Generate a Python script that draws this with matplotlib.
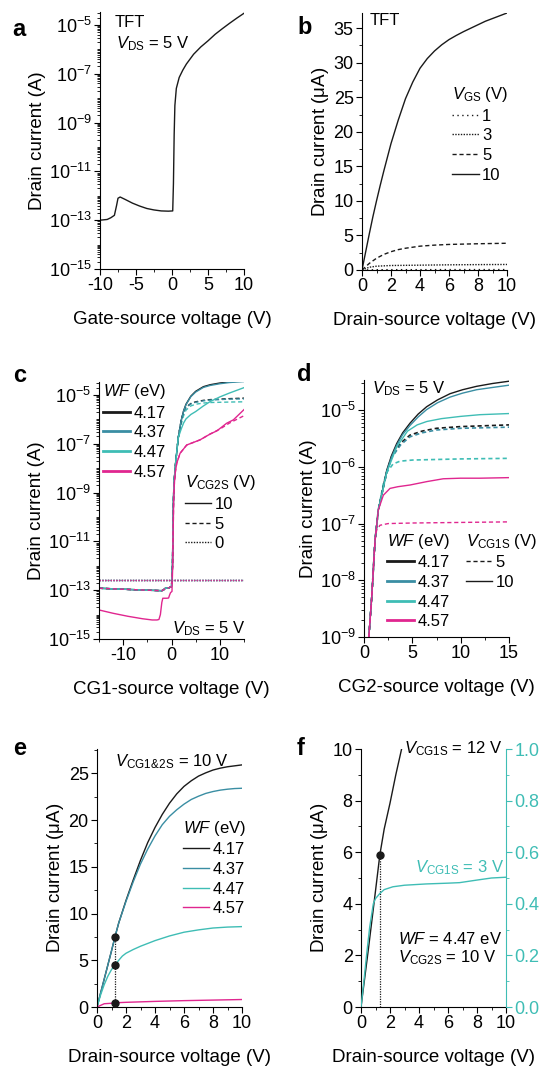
import numpy as np
import matplotlib
matplotlib.use("Agg")
import matplotlib.pyplot as plt
from matplotlib.ticker import MultipleLocator, FixedLocator, NullFormatter
from matplotlib.lines import Line2D
from matplotlib.mathtext import MathTextParser

plt.rcParams['font.family'] = ['Liberation Sans', 'DejaVu Sans']
plt.rcParams['mathtext.fontset'] = 'custom'
plt.rcParams['mathtext.rm'] = 'Liberation Sans'
plt.rcParams['mathtext.it'] = 'Liberation Sans:italic'
plt.rcParams['mathtext.bf'] = 'Liberation Sans:bold'
plt.rcParams['axes.unicode_minus'] = False
plt.rcParams['xtick.direction'] = 'out'
plt.rcParams['ytick.direction'] = 'out'

BLACK = '#1a1a1a'
DKTEAL = '#3a8ea3'
TEAL = '#3fbdb5'
MAGENTA = '#e0268f'
wf_labels = ['4.17', '4.37', '4.47', '4.57']
wf_colors = [BLACK, DKTEAL, TEAL, MAGENTA]

# ---- panel a: TFT transfer curve (log10 of drain current)
a_v = [-10, -9, -8.5, -8, -7.7, -7.5, -7.2, -6.5, -5.5, -4.5, -3.5, -2.5, -1.5, -0.5, 0.1,
       0.2, 0.3, 0.4, 0.6, 1.0, 1.5, 2.0, 3.0, 4.0, 5.0, 6.0, 7.0, 8.0, 9.0, 10.0]
a_log = [-13.0, -12.97, -12.9, -12.8, -12.4, -12.1, -12.05, -12.15, -12.3, -12.42, -12.52, -12.58,
         -12.62, -12.63, -12.62, -11.5, -9.5, -8.3, -7.6, -7.15, -6.85, -6.6, -6.2, -5.9, -5.65,
         -5.38, -5.15, -4.93, -4.72, -4.52]

# ---- panel b: TFT output curves (uA)
b_v10 = [0, 0.25, 0.5, 0.75, 1, 1.25, 1.5, 2, 2.5, 3, 3.5, 4, 4.5, 5, 5.5, 6, 6.5, 7, 7.5, 8,
         8.5, 9, 9.5, 10]
b_i10 = [0, 2.6, 5.2, 7.7, 10, 12.2, 14.3, 18.3, 21.7, 24.8, 27.2, 29.2, 30.6, 31.7, 32.6, 33.35,
         33.95, 34.5, 35.0, 35.5, 36.0, 36.4, 36.8, 37.2]
b_v5 = [0, 0.5, 1, 1.5, 2, 2.5, 3, 4, 5, 6, 8, 10]
b_i5 = [0, 0.95, 1.7, 2.25, 2.65, 2.95, 3.15, 3.45, 3.6, 3.7, 3.8, 3.87]
b_v3 = [0, 0.5, 1, 2, 4, 6, 8, 10]
b_i3 = [0, 0.4, 0.55, 0.65, 0.7, 0.75, 0.78, 0.8]
b_v1 = [0, 1, 2, 4, 6, 8, 10]
b_i1 = [0, 0.04, 0.05, 0.05, 0.06, 0.06, 0.06]

# ---- panel c: transfer vs CG1 (log10 A)
c_off_v = [-15, -10, -5, -2, -1.6, -1.3, -0.5, 0.0]
c_off_log = [-12.92, -12.96, -13.0, -13.02, -12.98, -12.92, -12.9, -12.85]
c_rise_v = [0.2, 0.3, 0.4, 0.5, 0.6, 0.8, 1.0, 1.4]
c_rise_log = [-12.0, -10.5, -9.3, -8.7, -8.4, -7.9, -7.5, -6.75]
c_on_v = [2.0, 2.5, 3, 4, 5, 6.6, 8, 10, 12, 15]
c_417_10 = [-6.05, -5.65, -5.38, -5.05, -4.85, -4.66, -4.58, -4.51, -4.46, -4.42]
c_437_10 = [-6.05, -5.67, -5.4, -5.07, -4.88, -4.69, -4.61, -4.54, -4.49, -4.45]
c_447_10 = [-6.4, -6.15, -5.98, -5.8, -5.68, -5.45, -5.27, -5.08, -4.92, -4.7]
c_417_5 = [-6.05, -5.7, -5.5, -5.35, -5.28, -5.22, -5.19, -5.17, -5.15, -5.13]
c_437_5 = [-6.05, -5.72, -5.52, -5.37, -5.3, -5.24, -5.21, -5.19, -5.17, -5.16]
c_447_5 = [-6.2, -5.85, -5.62, -5.45, -5.38, -5.33, -5.31, -5.3, -5.29, -5.28]
c_557_10_v = [-15, -12, -9, -6, -4, -3, -2.6, -2.3, -2.0, -1.8, -1.0, -0.6, -0.4, -0.2, 0.1,
              0.25, 0.35, 0.45, 0.6, 0.8, 1.08, 1.77, 3.15, 5.9, 8.0, 9.4, 11.4, 12.8, 15]
c_557_10 = [-13.81, -13.95, -14.07, -14.17, -14.22, -14.22, -14.2, -14.0, -13.5, -13.33, -13.33,
            -13.32, -13.2, -13.1, -13.05, -12.0, -10.5, -9.3, -8.6, -8.15, -7.8, -7.39, -7.05,
            -6.84, -6.6, -6.47, -6.16, -6.02, -5.6]
c_557_5_v = [0.25, 0.35, 0.45, 0.6, 0.8, 1.08, 1.77, 3.15, 5.9, 8.0, 10, 12, 15]
c_557_5 = [-12.0, -10.5, -9.3, -8.6, -8.15, -7.8, -7.39, -7.05, -6.84, -6.6, -6.4, -6.15, -5.85]
c_zero_v = [-15, 15]
c_zero_log = [-12.58, -12.58]

# ---- panel d: transfer vs CG2 (log10 A)
d_rise_v = [0.5, 0.8, 1.14, 1.48]
d_rise_log = [-9.0, -8.3, -7.3, -6.76]
d_sol_v = [2.35, 2.85, 3.38, 4.0, 4.76, 5.6, 6.48, 7.6, 8.9, 10.2, 11.65, 13.3, 15]
d_417_10 = [-6.06, -5.8, -5.59, -5.4, -5.23, -5.07, -4.94, -4.82, -4.71, -4.64, -4.58, -4.53, -4.49]
d_437_10 = [-6.08, -5.83, -5.62, -5.43, -5.27, -5.12, -4.99, -4.87, -4.77, -4.7, -4.64, -4.6, -4.56]
d_447_10_v = [2.35, 3.38, 4.5, 5.5, 6.5, 8, 10, 12, 15]
d_447_10 = [-6.1, -5.65, -5.37, -5.26, -5.2, -5.15, -5.11, -5.08, -5.06]
d_dash_v = [2.35, 2.86, 3.8, 4.76, 6, 7.5, 10, 15]
d_417_5 = [-6.1, -5.82, -5.58, -5.44, -5.37, -5.32, -5.29, -5.26]
d_437_5 = [-6.1, -5.84, -5.61, -5.47, -5.4, -5.35, -5.32, -5.3]
d_447_5_v = [2.0, 2.35, 3.0, 3.72, 5, 7.5, 10, 15]
d_447_5 = [-6.3, -6.1, -5.95, -5.9, -5.88, -5.87, -5.86, -5.85]
d_457_10_v = [2.0, 2.69, 3.5, 4.76, 6.5, 8.2, 10, 12, 15]
d_457_10 = [-6.5, -6.38, -6.35, -6.32, -6.26, -6.21, -6.2, -6.2, -6.19]
d_457_5_v = [0.5, 0.8, 1.14, 1.3, 1.65, 2.5, 5, 10, 15]
d_457_5 = [-9.0, -8.3, -7.3, -7.12, -7.03, -7.0, -6.99, -6.98, -6.97]

# ---- panel e: output curves, VCG1&2S = 10 V (uA)
e_v = [0, 0.5, 1, 1.24, 1.5, 2, 2.5, 3, 3.5, 4, 4.5, 5, 5.5, 6, 6.5, 7, 7.5, 8, 8.5, 9, 9.5, 10]
e_417 = [0, 3, 6, 7.5, 9.0, 11.4, 13.6, 15.7, 17.6, 19.2, 20.6, 21.8, 22.8, 23.6, 24.2, 24.7,
         25.05, 25.35, 25.55, 25.7, 25.8, 25.9]
e_437 = [0, 3, 6, 7.5, 9.0, 11.3, 13.4, 15.3, 16.9, 18.3, 19.5, 20.4, 21.1, 21.7, 22.2, 22.55,
         22.85, 23.05, 23.2, 23.3, 23.37, 23.4]
e_447_v = [0, 0.25, 0.5, 0.75, 1, 1.24, 1.5, 1.75, 2, 2.5, 3, 3.5, 4, 5, 6, 7, 8, 9, 10]
e_447 = [0, 1.3, 2.4, 3.3, 4.0, 4.5, 5.0, 5.45, 5.75, 6.15, 6.5, 6.8, 7.1, 7.6, 8.0, 8.25, 8.45,
         8.55, 8.6]
e_457_v = [0, 0.5, 1, 1.24, 2, 4, 6, 8, 10]
e_457 = [0, 0.35, 0.4, 0.45, 0.5, 0.6, 0.68, 0.74, 0.8]
e_dot_v = [1.24, 1.24, 1.24]
e_dot_i = [7.5, 4.5, 0.45]

# ---- panel f: WF = 4.47 eV, VCG2S = 10 V
f_v12 = [0, 0.5, 1, 1.3, 1.6, 2, 2.4, 2.8]
f_i12 = [0, 2.2, 4.5, 5.9, 6.9, 7.9, 9.0, 10]
f_v3 = [0, 0.2, 0.4, 0.6, 0.85, 1.0, 1.3, 1.6, 2.2, 3, 4.5, 6, 6.8, 8, 9, 10]
f_i3 = [0, 0.1, 0.21, 0.31, 0.4, 0.42, 0.44, 0.455, 0.466, 0.472, 0.477, 0.48, 0.482, 0.492,
        0.5, 0.503]
f_dot_v = 1.3
f_dot_i = 5.9

W, H = 539, 1067
fig = plt.figure(figsize=(W / 100, H / 100), dpi=100)


def box(l, t, r, b):
    return [l / W, (H - b) / H, (r - l) / W, (b - t) / H]


TICK = 13
LAB = 13.5
ANN = 12
LW = 1.0


def style(ax):
    for s in ['top', 'right']:
        ax.spines[s].set_visible(False)
    ax.tick_params(labelsize=TICK, length=4, width=0.8, pad=2)
    ax.tick_params(which='minor', length=2.5, width=0.6)


def logaxis(ax, lo, hi, step):
    ax.set_yscale('log')
    ax.set_ylim(10.0 ** lo, 3.4e-5)
    ax.yaxis.set_major_locator(FixedLocator([10.0 ** k for k in range(lo, -4, step)]))
    ax.yaxis.set_major_formatter(matplotlib.ticker.FuncFormatter(
        lambda y, p: r'$10^{%d}$' % round(np.log10(y))))
    minors = [m * 10.0 ** k for k in range(lo, -4) for m in range(1, 10)]
    ax.yaxis.set_minor_locator(FixedLocator(minors))
    ax.yaxis.set_minor_formatter(NullFormatter())


def lg(vals):
    return 10.0 ** np.asarray(vals)


def leg(ax, handles, labels, title, x, y):
    L = ax.legend(handles, labels, title=title, loc='upper left', bbox_to_anchor=(x, y),
                  frameon=False, fontsize=ANN, title_fontsize=ANN, handlelength=1.6,
                  handletextpad=0.2, labelspacing=0.28, borderpad=0, borderaxespad=0,
                  alignment='left')
    return L


def safe_math(candidates):
    p = MathTextParser('path')
    for s in candidates:
        try:
            p.parse(s)
            return s
        except Exception:
            continue
    return candidates[-1]


VCG12 = safe_math([r'$V_{\mathrm{CG1}\&\mathrm{2S}}$ = 10 V',
                   r'$V_{\mathrm{CG1}}$' + '$_{&}$' + r'$_{\mathrm{2S}}$ = 10 V',
                   r'$V_{\mathrm{CG1 and 2S}}$ = 10 V'])

# ---------------- a
ax = fig.add_axes(box(100, 12, 244, 269))
style(ax)
ax.plot(a_v, lg(a_log), color=BLACK, lw=LW)
logaxis(ax, -15, -5, 2)
ax.set_xlim(-10, 10)
ax.xaxis.set_major_locator(MultipleLocator(5))
ax.xaxis.set_minor_locator(MultipleLocator(2.5))
ax.set_xlabel('Gate-source voltage (V)', fontsize=LAB, labelpad=12)
ax.set_ylabel('Drain current (A)', fontsize=LAB, labelpad=2)
ax.text(0.1, 0.96, 'TFT', transform=ax.transAxes, fontsize=ANN, va='center')
ax.text(0.11, 0.875, r'$V_{\mathrm{DS}}$ = 5 V', transform=ax.transAxes, fontsize=ANN, va='center')

# ---------------- b
ax = fig.add_axes(box(362, 13, 507, 270))
style(ax)
l1, = ax.plot(b_v1, b_i1, color=BLACK, lw=LW, ls=(0, (1, 2.5)))
l3, = ax.plot(b_v3, b_i3, color=BLACK, lw=LW, ls=(0, (1, 1)))
l5, = ax.plot(b_v5, b_i5, color=BLACK, lw=LW, ls=(0, (3, 2)))
l10, = ax.plot(b_v10, b_i10, color=BLACK, lw=LW)
ax.set_xlim(0, 10)
ax.set_ylim(0, 37.2)
ax.xaxis.set_major_locator(MultipleLocator(2))
ax.xaxis.set_minor_locator(MultipleLocator(1))
ax.yaxis.set_major_locator(MultipleLocator(5))
ax.yaxis.set_minor_locator(MultipleLocator(2.5))
ax.set_xlabel('Drain-source voltage (V)', fontsize=LAB, labelpad=12)
ax.set_ylabel(r'Drain current ($\mathrm{\mu}$A)', fontsize=LAB, labelpad=2)
ax.text(0.055, 0.97, 'TFT', transform=ax.transAxes, fontsize=ANN, va='center')
leg(ax, [l1, l3, l5, l10], ['1', '3', '5', '10'], r'$V_{\mathrm{GS}}$ (V)', 0.62, 0.72)

# ---------------- c
ax = fig.add_axes(box(99, 382, 244, 639))
style(ax)
c_sol = [c_417_10, c_437_10, c_447_10]
c_das = [c_417_5, c_437_5, c_447_5]
for col, ys in zip(wf_colors[:3], c_das):
    ax.plot(c_off_v + c_rise_v + c_on_v, lg(c_off_log + c_rise_log + ys), color=col, lw=LW,
            ls=(0, (3, 2)))
for col, ys in zip(wf_colors[:3], c_sol):
    ax.plot(c_off_v + c_rise_v + c_on_v, lg(c_off_log + c_rise_log + ys), color=col, lw=LW)
ax.plot(c_off_v + c_557_5_v, lg(c_off_log + c_557_5), color=MAGENTA, lw=LW, ls=(0, (3, 2)))
ax.plot(c_557_10_v, lg(c_557_10), color=MAGENTA, lw=LW)
for col in wf_colors:
    ax.plot(c_zero_v, lg(c_zero_log), color=col, lw=LW, ls=(0, (1, 1)))
logaxis(ax, -15, -5, 2)
ax.set_xlim(-15, 15)
ax.xaxis.set_major_locator(MultipleLocator(10))
ax.xaxis.set_minor_locator(MultipleLocator(5))
ax.set_xlabel('CG1-source voltage (V)', fontsize=LAB, labelpad=12)
ax.set_ylabel('Drain current (A)', fontsize=LAB, labelpad=2)
hw = [Line2D([], [], color=c, lw=2) for c in wf_colors]
L1 = leg(ax, hw, wf_labels, r'$WF$ (eV)', 0.03, 1.0)
ax.add_artist(L1)
hv = [Line2D([], [], color=BLACK, lw=LW, ls=s) for s in ['-', (0, (3, 2)), (0, (1, 1))]]
leg(ax, hv, ['10', '5', '0'], r'$V_{\mathrm{CG2S}}$ (V)', 0.59, 0.645)
ax.text(1.01, 0.04, r'$V_{\mathrm{DS}}$ = 5 V', transform=ax.transAxes, fontsize=ANN,
        va='center', ha='right')

# ---------------- d
ax = fig.add_axes(box(364, 380, 509, 637))
style(ax)
for col, v, ys in [(BLACK, d_dash_v, d_417_5), (DKTEAL, d_dash_v, d_437_5),
                   (TEAL, d_447_5_v, d_447_5)]:
    ax.plot(d_rise_v + v, lg(d_rise_log + ys), color=col, lw=LW + 0.2, ls=(0, (2.5, 1.8)))
for col, v, ys in [(BLACK, d_sol_v, d_417_10), (DKTEAL, d_sol_v, d_437_10),
                   (TEAL, d_447_10_v, d_447_10)]:
    ax.plot(d_rise_v + v, lg(d_rise_log + ys), color=col, lw=LW)
ax.plot(d_457_5_v, lg(d_457_5), color=MAGENTA, lw=LW, ls=(0, (3, 2)))
ax.plot(d_rise_v + d_457_10_v, lg(d_rise_log + d_457_10), color=MAGENTA, lw=LW)
logaxis(ax, -9, -5, 1)
ax.set_xlim(0, 15)
ax.xaxis.set_major_locator(MultipleLocator(5))
ax.xaxis.set_minor_locator(MultipleLocator(2.5))
ax.set_xlabel('CG2-source voltage (V)', fontsize=LAB, labelpad=12)
ax.set_ylabel('Drain current (A)', fontsize=LAB, labelpad=2)
L1 = leg(ax, hw, wf_labels, r'$WF$ (eV)', 0.16, 0.41)
ax.add_artist(L1)
hv = [Line2D([], [], color=BLACK, lw=LW, ls=s) for s in [(0, (3, 2)), '-']]
leg(ax, hv, ['5', '10'], r'$V_{\mathrm{CG1S}}$ (V)', 0.70, 0.41)
ax.text(0.055, 0.965, r'$V_{\mathrm{DS}}$ = 5 V', transform=ax.transAxes, fontsize=ANN,
        va='center')

# ---------------- e
ax = fig.add_axes(box(97, 749, 242, 1007))
style(ax)
ax.plot(e_v, e_417, color=BLACK, lw=LW)
ax.plot(e_v, e_437, color=DKTEAL, lw=LW)
ax.plot(e_447_v, e_447, color=TEAL, lw=LW)
ax.plot(e_457_v, e_457, color=MAGENTA, lw=LW)
ax.vlines(e_dot_v[0], 0, max(e_dot_i), colors=BLACK, lw=0.9, linestyles=(0, (1, 1)))
ax.plot(e_dot_v, e_dot_i, 'o', color=BLACK, ms=5, zorder=5)
ax.set_xlim(0, 10)
ax.set_ylim(0, 27.6)
ax.xaxis.set_major_locator(MultipleLocator(2))
ax.xaxis.set_minor_locator(MultipleLocator(1))
ax.yaxis.set_major_locator(MultipleLocator(5))
ax.yaxis.set_minor_locator(MultipleLocator(2.5))
ax.set_xlabel('Drain-source voltage (V)', fontsize=LAB, labelpad=12)
ax.set_ylabel(r'Drain current ($\mathrm{\mu}$A)', fontsize=LAB, labelpad=2)
he = [Line2D([], [], color=c, lw=LW) for c in wf_colors]
leg(ax, he, wf_labels, r'$WF$ (eV)', 0.59, 0.73)
ax.text(0.125, 0.95, VCG12, transform=ax.transAxes, fontsize=ANN, va='center')

# ---------------- f
ax = fig.add_axes(box(361, 749, 506, 1007))
style(ax)
ax.plot(f_v12, f_i12, color=BLACK, lw=LW)
ax.vlines(f_dot_v, 0, f_dot_i, colors=BLACK, lw=0.9, linestyles=(0, (1, 1)))
ax.plot([f_dot_v], [f_dot_i], 'o', color=BLACK, ms=5, zorder=5)
ax.set_xlim(0, 10)
ax.set_ylim(0, 10)
ax.xaxis.set_major_locator(MultipleLocator(2))
ax.xaxis.set_minor_locator(MultipleLocator(1))
ax.yaxis.set_major_locator(MultipleLocator(2))
ax.yaxis.set_minor_locator(MultipleLocator(1))
ax.set_xlabel('Drain-source voltage (V)', fontsize=LAB, labelpad=12)
ax.set_ylabel(r'Drain current ($\mathrm{\mu}$A)', fontsize=LAB, labelpad=2)
ax.text(0.3, 1.0, r'$V_{\mathrm{CG1S}}$ = 12 V', transform=ax.transAxes, fontsize=ANN,
        va='center')
ax.text(0.255, 0.265, r'$WF$ = 4.47 eV', transform=ax.transAxes, fontsize=ANN, va='center')
ax.text(0.255, 0.19, r'$V_{\mathrm{CG2S}}$ = 10 V', transform=ax.transAxes, fontsize=ANN,
        va='center')
ax2 = ax.twinx()
for s in ['top', 'left', 'bottom']:
    ax2.spines[s].set_visible(False)
ax2.spines['right'].set_color(TEAL)
ax2.plot(f_v3, f_i3, color=TEAL, lw=LW)
ax2.set_ylim(0, 1.0)
ax2.yaxis.set_major_locator(MultipleLocator(0.2))
ax2.yaxis.set_minor_locator(MultipleLocator(0.1))
ax2.yaxis.set_major_formatter(matplotlib.ticker.FormatStrFormatter('%.1f'))
ax2.tick_params(labelsize=TICK, length=4, width=0.8, pad=2, colors=TEAL)
ax2.tick_params(which='minor', length=2.5, width=0.6, colors=TEAL)
ax2.text(0.99, 0.54, r'$V_{\mathrm{CG1S}}$ = 3 V', transform=ax2.transAxes, fontsize=ANN,
         va='center', ha='right', color=TEAL)

# panel letters
for letter, (px, py) in zip('abcdef', [(12, 36), (297, 34), (13, 382), (297, 381),
                                        (13, 755), (297, 755)]):
    fig.text(px / W, (H - py) / H, letter, fontsize=17, fontweight='bold', va='baseline')

fig.savefig('out.png', dpi=100)
